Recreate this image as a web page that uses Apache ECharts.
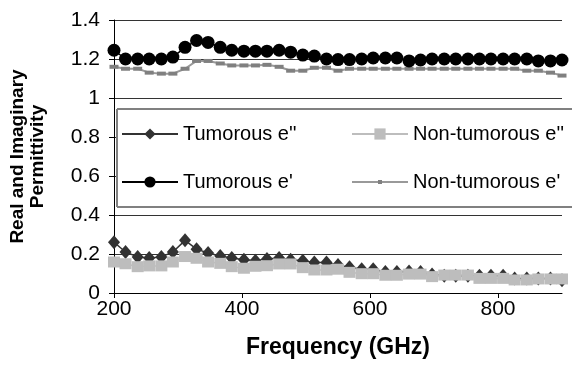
<!DOCTYPE html>
<html>
<head>
<meta charset="utf-8">
<script src="https://cdn.jsdelivr.net/npm/echarts@6/dist/echarts.min.js"></script>
<style>html,body{margin:0;padding:0;background:#fff}#c{width:572px;height:369px}</style>
</head>
<body>
<div id="c"></div>
<script>
var freq = [200,218,237,255,274,292,311,329,347,366,384,403,421,439,458,476,495,513,532,550,568,587,605,624,642,661,679,697,716,734,753,771,789,808,826,845,863,882,900];
var tumorousE2 = [0.26,0.21,0.185,0.18,0.185,0.21,0.27,0.225,0.205,0.19,0.18,0.17,0.165,0.175,0.18,0.17,0.165,0.156,0.156,0.143,0.132,0.122,0.122,0.108,0.108,0.11,0.108,0.095,0.088,0.088,0.088,0.088,0.088,0.088,0.075,0.075,0.075,0.075,0.065];
var nonTumorousE2 = [0.159,0.15,0.135,0.139,0.139,0.159,0.187,0.178,0.159,0.152,0.135,0.127,0.137,0.14,0.149,0.149,0.13,0.118,0.118,0.122,0.106,0.099,0.099,0.091,0.091,0.097,0.097,0.084,0.092,0.092,0.092,0.075,0.075,0.075,0.067,0.067,0.072,0.072,0.072];
var tumorousE1 = [1.245,1.2,1.2,1.2,1.2,1.21,1.26,1.295,1.285,1.26,1.245,1.24,1.24,1.24,1.245,1.235,1.22,1.215,1.2,1.197,1.197,1.2,1.205,1.205,1.205,1.19,1.195,1.2,1.2,1.2,1.2,1.2,1.2,1.2,1.2,1.2,1.19,1.19,1.195];
var nonTumorousE1 = [1.16,1.15,1.15,1.13,1.125,1.125,1.15,1.19,1.19,1.177,1.167,1.167,1.167,1.17,1.16,1.14,1.14,1.155,1.155,1.14,1.15,1.15,1.15,1.15,1.15,1.15,1.15,1.15,1.15,1.15,1.15,1.15,1.15,1.15,1.15,1.14,1.14,1.13,1.115];
var yTicks = {min: 0, max: 1.4, step: 0.2};
var xTicks = {min: 200, max: 900, step: 200};
var names = ["Tumorous e''", "Non-tumorous e''", "Tumorous e'", "Non-tumorous e'"];

function pairs(arr){ return freq.map(function(f,i){ return [f, arr[i]]; }); }
var FONT = 'Liberation Sans, Arial, sans-serif';
var chart = echarts.init(document.getElementById('c'), null, {renderer:'canvas'});
function leg(name, left, top, ih){
  return {data:[name], left:left, top:top, padding:0, itemWidth:56, itemHeight:ih||14, itemGap:0, z:10,
    textStyle:{fontFamily:FONT, fontSize:20, color:'#000'}, selectedMode:false};
}
var frameStyle = {stroke:'#808080', lineWidth:2};
chart.setOption({
  animation:false,
  backgroundColor:'#fff',
  grid:{left:112, right:10, top:20, bottom:76, containLabel:false},
  graphic:[
    {type:'rect', shape:{x:117, y:109, width:455, height:98}, style:{fill:'#fff'}, z:5},
    {type:'line', shape:{x1:117, y1:109, x2:572, y2:109}, style:frameStyle, z:6},
    {type:'line', shape:{x1:117, y1:207, x2:572, y2:207}, style:frameStyle, z:6},
    {type:'line', shape:{x1:117, y1:109, x2:117, y2:207}, style:frameStyle, z:6}
  ],
  legend:[leg(names[0],121,124), leg(names[1],351,124), leg(names[2],121,172), leg(names[3],351,172,5)],
  xAxis:{type:'value', min:xTicks.min, max:xTicks.max, interval:xTicks.step,
    name:'Frequency (GHz)', nameLocation:'middle', nameGap:43,
    nameTextStyle:{fontFamily:FONT, fontSize:23, fontWeight:'bold', color:'#000'},
    axisLine:{lineStyle:{color:'#000', width:1}},
    axisTick:{show:true, length:5, lineStyle:{color:'#000'}},
    axisLabel:{fontFamily:FONT, fontSize:21, color:'#000', margin:6, showMaxLabel:false,
      formatter:function(v){ return v===900 ? '' : String(v); }},
    splitLine:{show:false}},
  yAxis:{type:'value', min:yTicks.min, max:yTicks.max, interval:yTicks.step,
    name:'Real and Imaginary\nPermittivity', nameLocation:'middle', nameGap:66, nameRotate:90,
    nameTextStyle:{fontFamily:FONT, fontSize:19, fontWeight:'bold', color:'#000', lineHeight:20},
    axisLine:{show:true, lineStyle:{color:'#000', width:1}},
    axisTick:{show:true, length:5, lineStyle:{color:'#000'}},
    axisLabel:{fontFamily:FONT, fontSize:21, color:'#000', margin:14},
    splitLine:{show:true, lineStyle:{color:'#333', width:1}}},
  series:[
    {name:names[0], type:'line', data:pairs(tumorousE2), symbol:'diamond', symbolSize:[12,14],
      lineStyle:{color:'#333', width:1.5}, itemStyle:{color:'#333'}, z:2},
    {name:names[1], type:'line', data:pairs(nonTumorousE2), symbol:'rect', symbolSize:[12,11],
      lineStyle:{color:'#bdbdbd', width:1.5}, itemStyle:{color:'#bdbdbd'}, z:3},
    {name:names[2], type:'line', data:pairs(tumorousE1), symbol:'circle', symbolSize:13,
      lineStyle:{color:'#000', width:1.5}, itemStyle:{color:'#000'}, z:3},
    {name:names[3], type:'line', data:pairs(nonTumorousE1), symbol:'rect', symbolSize:[9,4],
      lineStyle:{color:'#999', width:2}, itemStyle:{color:'#808080'}, z:2}
  ]
});
</script>
</body>
</html>
